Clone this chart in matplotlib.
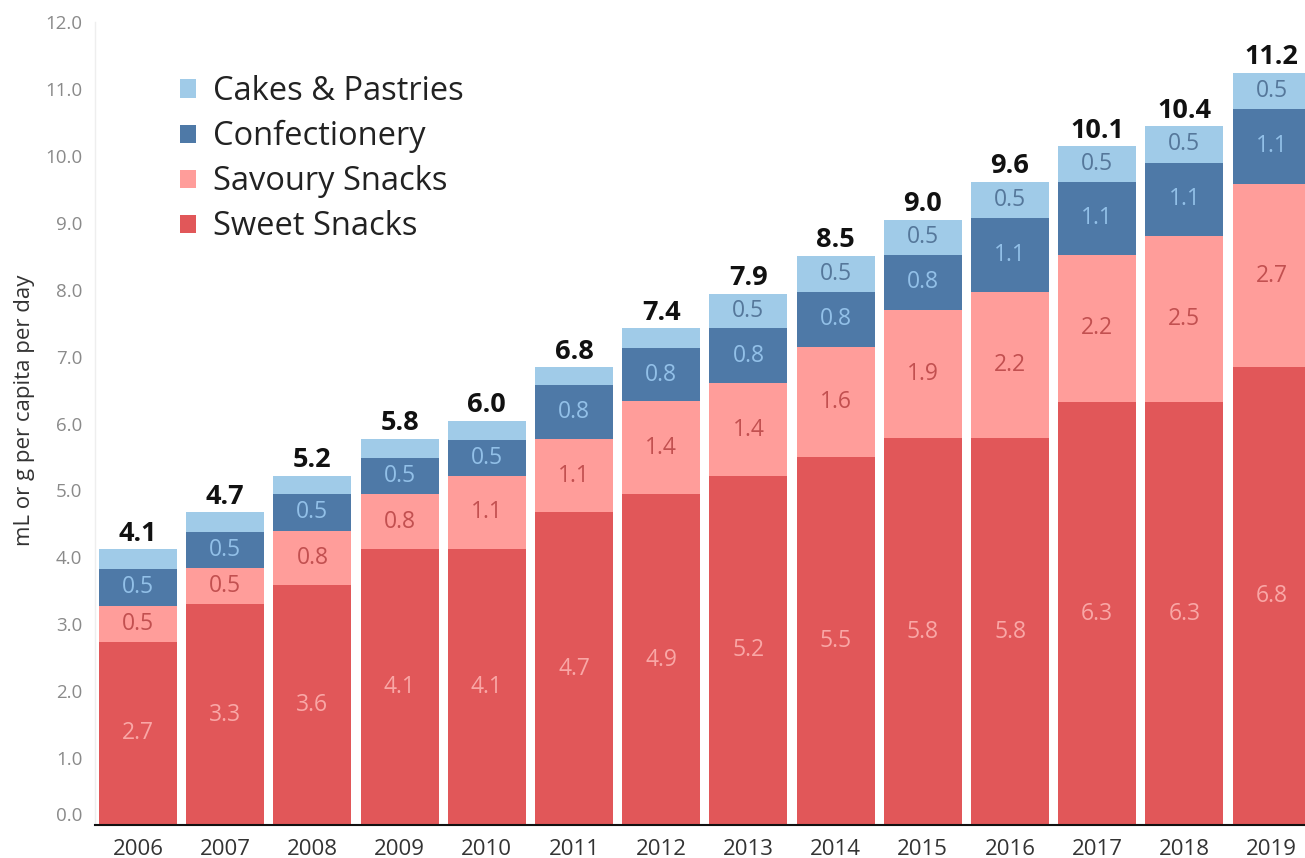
import matplotlib
matplotlib.use("Agg")
import matplotlib.pyplot as plt
import numpy as np

plt.rcParams['font.family'] = ['Open Sans', 'DejaVu Sans']

years = [2006, 2007, 2008, 2009, 2010, 2011, 2012, 2013, 2014, 2015, 2016, 2017, 2018, 2019]
sweet_snacks = [2.74, 3.30, 3.58, 4.13, 4.13, 4.67, 4.94, 5.22, 5.50, 5.78, 5.78, 6.32, 6.32, 6.84]
savoury_snacks = [0.54, 0.54, 0.82, 0.81, 1.09, 1.10, 1.39, 1.38, 1.64, 1.92, 2.19, 2.20, 2.48, 2.74]
confectionery = [0.54, 0.54, 0.54, 0.54, 0.54, 0.80, 0.80, 0.82, 0.83, 0.82, 1.10, 1.09, 1.10, 1.12]
cakes_pastries = [0.30, 0.29, 0.28, 0.29, 0.28, 0.27, 0.29, 0.52, 0.54, 0.52, 0.54, 0.53, 0.54, 0.54]

series_names = ["Sweet Snacks", "Savoury Snacks", "Confectionery", "Cakes & Pastries"]
series_values = [sweet_snacks, savoury_snacks, confectionery, cakes_pastries]

seg_colors = ["#e15759", "#ff9d9a", "#4e79a7", "#a0cbe8"]
label_colors = ["#f9a7a6", "#c25050", "#92c0e8", "#55779a"]

W, H = 1305, 858
fig = plt.figure(figsize=(W / 100, H / 100), dpi=100)

# axes placement in pixels
ax_left, ax_right = 95, 1305
ax_bottom, ax_top = 33, 858 - 22
ax = fig.add_axes([ax_left / W, ax_bottom / H, (ax_right - ax_left) / W, (ax_top - ax_bottom) / H])

x = np.arange(len(years))
pitch = 87.2
bar_w = 78 / pitch
first_center = 138
ax.set_xlim(-(first_center - ax_left) / pitch, (ax_right - first_center) / pitch)
ax.set_ylim(0, 12.0)

bottom = np.zeros(len(years))
containers = []
for vals, color, lcol in zip(series_values, seg_colors, label_colors):
    vals = np.array(vals)
    bc = ax.bar(x, vals, width=bar_w, bottom=bottom, color=color, linewidth=0)
    containers.append(bc)
    for xi, b, v in zip(x, bottom, vals):
        if v >= 0.4:
            ax.text(xi, b + v / 2, f"{v:.1f}", ha="center", va="center",
                    fontsize=16.5, color=lcol)
    bottom = bottom + vals

for xi, tot in zip(x, bottom):
    ax.text(xi, tot + 0.04, f"{tot:.1f}", ha="center", va="bottom",
            fontsize=19.5, fontweight="bold", color="#111111")

yt = np.arange(0, 12.01, 1.0)
ax.set_yticks(yt)
ax.set_yticklabels([f"{t:.1f}" for t in yt])
ax.tick_params(axis="y", length=0, pad=9, labelsize=13.5, labelcolor="#8a8a8a")
ax.get_yticklabels()[0].set_verticalalignment("bottom")
ax.set_xticks(x)
ax.set_xticklabels([str(y) for y in years])
ax.tick_params(axis="x", length=0, pad=10, labelsize=16, labelcolor="#333333")

for s in ["top", "right"]:
    ax.spines[s].set_visible(False)
ax.spines["left"].set_color("#eeeeee")
ax.spines["left"].set_linewidth(1)
ax.spines["bottom"].set_color("#111111")
ax.spines["bottom"].set_linewidth(1.5)

ax.set_ylabel("mL or g per capita per day", fontsize=16, color="#333333")
ax.yaxis.set_label_coords(-0.0495, 0.517)

handles = containers[::-1]
labels = series_names[::-1]
leg = ax.legend(handles, labels, loc="upper left",
                bbox_to_anchor=(180 / W, 1 - 75 / H), bbox_transform=fig.transFigure,
                frameon=False, fontsize=23.5, handlelength=0.49, handleheight=0.49,
                handletextpad=0.52, labelspacing=0.37, borderaxespad=0, borderpad=0)
for t in leg.get_texts():
    t.set_color("#222222")

fig.savefig("out.png", dpi=100)
